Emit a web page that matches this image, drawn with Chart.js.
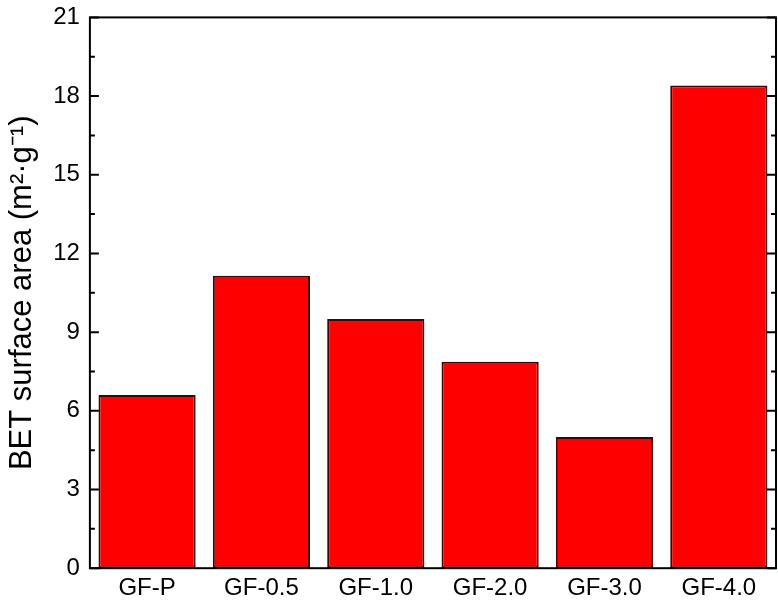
<!DOCTYPE html>
<html><head><meta charset="utf-8">
<script src="https://cdn.jsdelivr.net/npm/chart.js@4"></script>
<style>body{margin:0;background:#fff;overflow:hidden}#wrap{width:778px;height:616px;margin-top:-7px}</style>
</head><body><div id="wrap"><canvas id="myChart"></canvas></div>
<script>
const categories=['GF-P','GF-0.5','GF-1.0','GF-2.0','GF-3.0','GF-4.0'];
const bet=[6.6,11.15,9.5,7.87,5.0,18.4];
const yTicks=[0,3,6,9,12,15,18,21];

// 안쪽 눈금 + 프레임
const frame={id:'frame',afterDraw(c){
  const {ctx,chartArea:a,scales:{y}}=c;
  ctx.save();ctx.strokeStyle='#000';ctx.lineWidth=2;
  ctx.strokeRect(a.left,a.top,a.right-a.left,a.bottom-a.top);
  for(let v=0;v<=21;v+=1.5){
    const p=y.getPixelForValue(v),l=(v%3===0)?9:5;
    ctx.beginPath();ctx.moveTo(a.left,p);ctx.lineTo(a.left+l,p);
    ctx.moveTo(a.right,p);ctx.lineTo(a.right-l,p);ctx.stroke();
  }
  ctx.restore();
}};

new Chart(document.getElementById('myChart'),{
  type:'bar',
  data:{labels:categories,datasets:[{data:bet,backgroundColor:'#ff0000',borderColor:'#4a0000',borderWidth:2,borderSkipped:false,barPercentage:0.85,categoryPercentage:1}]},
  options:{responsive:true,maintainAspectRatio:false,animation:false,
    layout:{padding:{top:0,right:2,left:0,bottom:0}},
    plugins:{legend:{display:false},tooltip:{enabled:false}},
    scales:{
      x:{grid:{display:false,drawTicks:false},border:{display:false},
        ticks:{color:'#000',font:{family:'Arial, Liberation Sans',size:24},padding:6}},
      y:{min:0,max:21,afterBuildTicks:s=>{s.ticks=yTicks.map(v=>({value:v}))},
        grid:{display:false,drawTicks:false},border:{display:false},
        ticks:{color:'#000',font:{family:'Arial, Liberation Sans',size:24},padding:10},
        title:{display:true,text:'BET surface area (m²·g⁻¹)',color:'#000',font:{family:'Arial, Liberation Sans',size:31},padding:{bottom:2}}}
    }},
  plugins:[frame]
});
</script></body></html>
